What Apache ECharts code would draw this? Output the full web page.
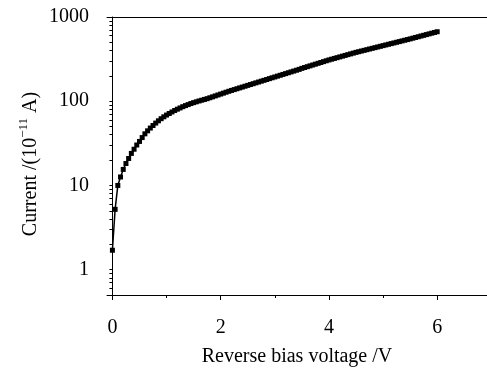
<!DOCTYPE html>
<html>
<head>
<meta charset="utf-8">
<script src="https://cdn.jsdelivr.net/npm/echarts@6/dist/echarts.min.js"></script>
<style>
html,body{margin:0;padding:0;background:#fff;}
#chart{width:487px;height:372px;}
</style>
</head>
<body>
<div id="chart"></div>
<script>
// Reverse bias voltage (V)
var voltage = [
  0.00, 0.05, 0.10, 0.15, 0.20, 0.25, 0.30, 0.35, 0.40, 0.45,
  0.50, 0.55, 0.60, 0.65, 0.70, 0.75, 0.80, 0.85, 0.90, 0.95,
  1.00, 1.05, 1.10, 1.15, 1.20, 1.25, 1.30, 1.35, 1.40, 1.45,
  1.50, 1.55, 1.60, 1.65, 1.70, 1.75, 1.80, 1.85, 1.90, 1.95,
  2.00, 2.05, 2.10, 2.15, 2.20, 2.25, 2.30, 2.35, 2.40, 2.45,
  2.50, 2.55, 2.60, 2.65, 2.70, 2.75, 2.80, 2.85, 2.90, 2.95,
  3.00, 3.05, 3.10, 3.15, 3.20, 3.25, 3.30, 3.35, 3.40, 3.45,
  3.50, 3.55, 3.60, 3.65, 3.70, 3.75, 3.80, 3.85, 3.90, 3.95,
  4.00, 4.05, 4.10, 4.15, 4.20, 4.25, 4.30, 4.35, 4.40, 4.45,
  4.50, 4.55, 4.60, 4.65, 4.70, 4.75, 4.80, 4.85, 4.90, 4.95,
  5.00, 5.05, 5.10, 5.15, 5.20, 5.25, 5.30, 5.35, 5.40, 5.45,
  5.50, 5.55, 5.60, 5.65, 5.70, 5.75, 5.80, 5.85, 5.90, 5.95,
  6.00
];
// Current (10^-11 A)
var current = [
  1.7, 5.2, 10.0, 12.6, 15.5, 18.2, 20.9, 24.0, 26.9, 30.2,
  33.3, 37.0, 41.0, 44.5, 48.0, 51.5, 55.0, 58.5, 62.0, 65.3,
  68.5, 71.5, 74.5, 77.6, 80.4, 83.2, 86.1, 88.7, 91.2, 93.8,
  96.2, 98.4, 100.7, 102.8, 105.0, 107.2, 109.9, 112.7, 115.6, 118.6,
  121.6, 124.7, 127.9, 131.2, 134.3, 137.4, 140.6, 143.9, 147.2, 150.7,
  154.2, 157.8, 161.4, 165.2, 169.0, 173.0, 177.0, 181.1, 185.4, 189.7,
  194.1, 198.6, 203.2, 208.0, 212.8, 217.8, 222.8, 228.0, 233.3, 238.8,
  245.5, 251.2, 257.0, 263.0, 269.2, 275.4, 281.8, 288.4, 295.1, 302.0,
  309.0, 315.5, 322.1, 328.9, 335.7, 342.8, 349.9, 357.3, 364.8, 372.4,
  380.2, 387.3, 394.5, 401.8, 409.3, 416.9, 424.6, 432.5, 440.6, 448.7,
  457.1, 465.6, 474.2, 483.1, 492.0, 501.2, 510.5, 520.0, 529.7, 539.5,
  549.5, 560.4, 571.5, 582.8, 594.3, 606.1, 618.0, 630.2, 642.7, 655.4,
  668.3
];
var xMajorTicks = [0, 2, 4, 6];
var xMinorTicks = [1, 3, 5];
var yLabelTicks = [1, 10, 100, 1000];
var yAllTicks = [0.6, 0.7, 0.8, 0.9, 1, 2, 3, 4, 5, 6, 7, 8, 9,
  10, 20, 30, 40, 50, 60, 70, 80, 90,
  100, 200, 300, 400, 500, 600, 700, 800, 900, 1000];

var FONT = '"Liberation Serif", "Times New Roman", serif';
var pts = voltage.map(function (v, i) { return [v, current[i]]; });

var chart = echarts.init(document.getElementById('chart'), null, {renderer: 'canvas'});
var xMin = -0.1, xMax = 6.92;
chart.setOption({
  animation: false,
  backgroundColor: '#fff',
  grid: {left: 107, top: 17, right: 0, bottom: 74, containLabel: false},
  graphic: [{
    type: 'text', x: 29, y: 164, rotation: Math.PI / 2,
    style: {
      text: '{n|Current /(10}{s|\u221211}{n| A)}',
      align: 'center', verticalAlign: 'middle',
      font: '20px ' + FONT, fill: '#000',
      rich: {
        n: {fontFamily: FONT, fontSize: 20, fill: '#000', verticalAlign: 'bottom', lineHeight: 24},
        s: {fontFamily: FONT, fontSize: 13, fill: '#000', verticalAlign: 'top', lineHeight: 24, padding: [0, 0, 10, 0]}
      }
    }
  }],
  xAxis: [
    {
      type: 'value', min: xMin, max: xMax, position: 'bottom',
      name: 'Reverse bias voltage /V', nameLocation: 'middle', nameGap: 52,
      nameTextStyle: {fontFamily: FONT, fontSize: 20, color: '#000'},
      axisLine: {show: true, lineStyle: {color: '#000', width: 1}},
      axisTick: {show: true, inside: false, length: 5, customValues: xMajorTicks, lineStyle: {color: '#000'}},
      axisLabel: {show: true, margin: 23, customValues: xMajorTicks, fontFamily: FONT, fontSize: 20, color: '#000',
        formatter: function (v) { return String(Math.round(v)); }},
      minorTick: {show: false},
      splitLine: {show: false}
    },
    {
      type: 'value', min: xMin, max: xMax, position: 'bottom',
      axisLine: {show: false},
      axisTick: {show: true, inside: false, length: 3, customValues: xMinorTicks, lineStyle: {color: '#000'}},
      axisLabel: {show: false, customValues: xMinorTicks},
      minorTick: {show: false},
      splitLine: {show: false}
    },
    {
      type: 'value', min: xMin, max: xMax, position: 'top',
      axisLine: {show: true, lineStyle: {color: '#000', width: 1}},
      axisTick: {show: false}, axisLabel: {show: false}, splitLine: {show: false}
    }
  ],
  yAxis: {
    type: 'log', logBase: 10, min: 0.5, max: 1000,
    axisLine: {show: true, lineStyle: {color: '#000', width: 1}},
    axisTick: {show: true, inside: false, length: 3, customValues: yAllTicks, lineStyle: {color: '#000'}},
    axisLabel: {show: true, margin: 18, customValues: yLabelTicks, fontFamily: FONT, fontSize: 20, color: '#000',
      formatter: function (v) { return String(Math.round(v)); }},
    minorTick: {show: false},
    splitLine: {show: false}
  },
  series: [{
    type: 'line', xAxisIndex: 0, data: pts,
    symbol: 'rect', symbolSize: 5, showSymbol: true,
    itemStyle: {color: '#000'},
    lineStyle: {color: '#000', width: 1.5}
  }]
});
</script>
</body>
</html>
